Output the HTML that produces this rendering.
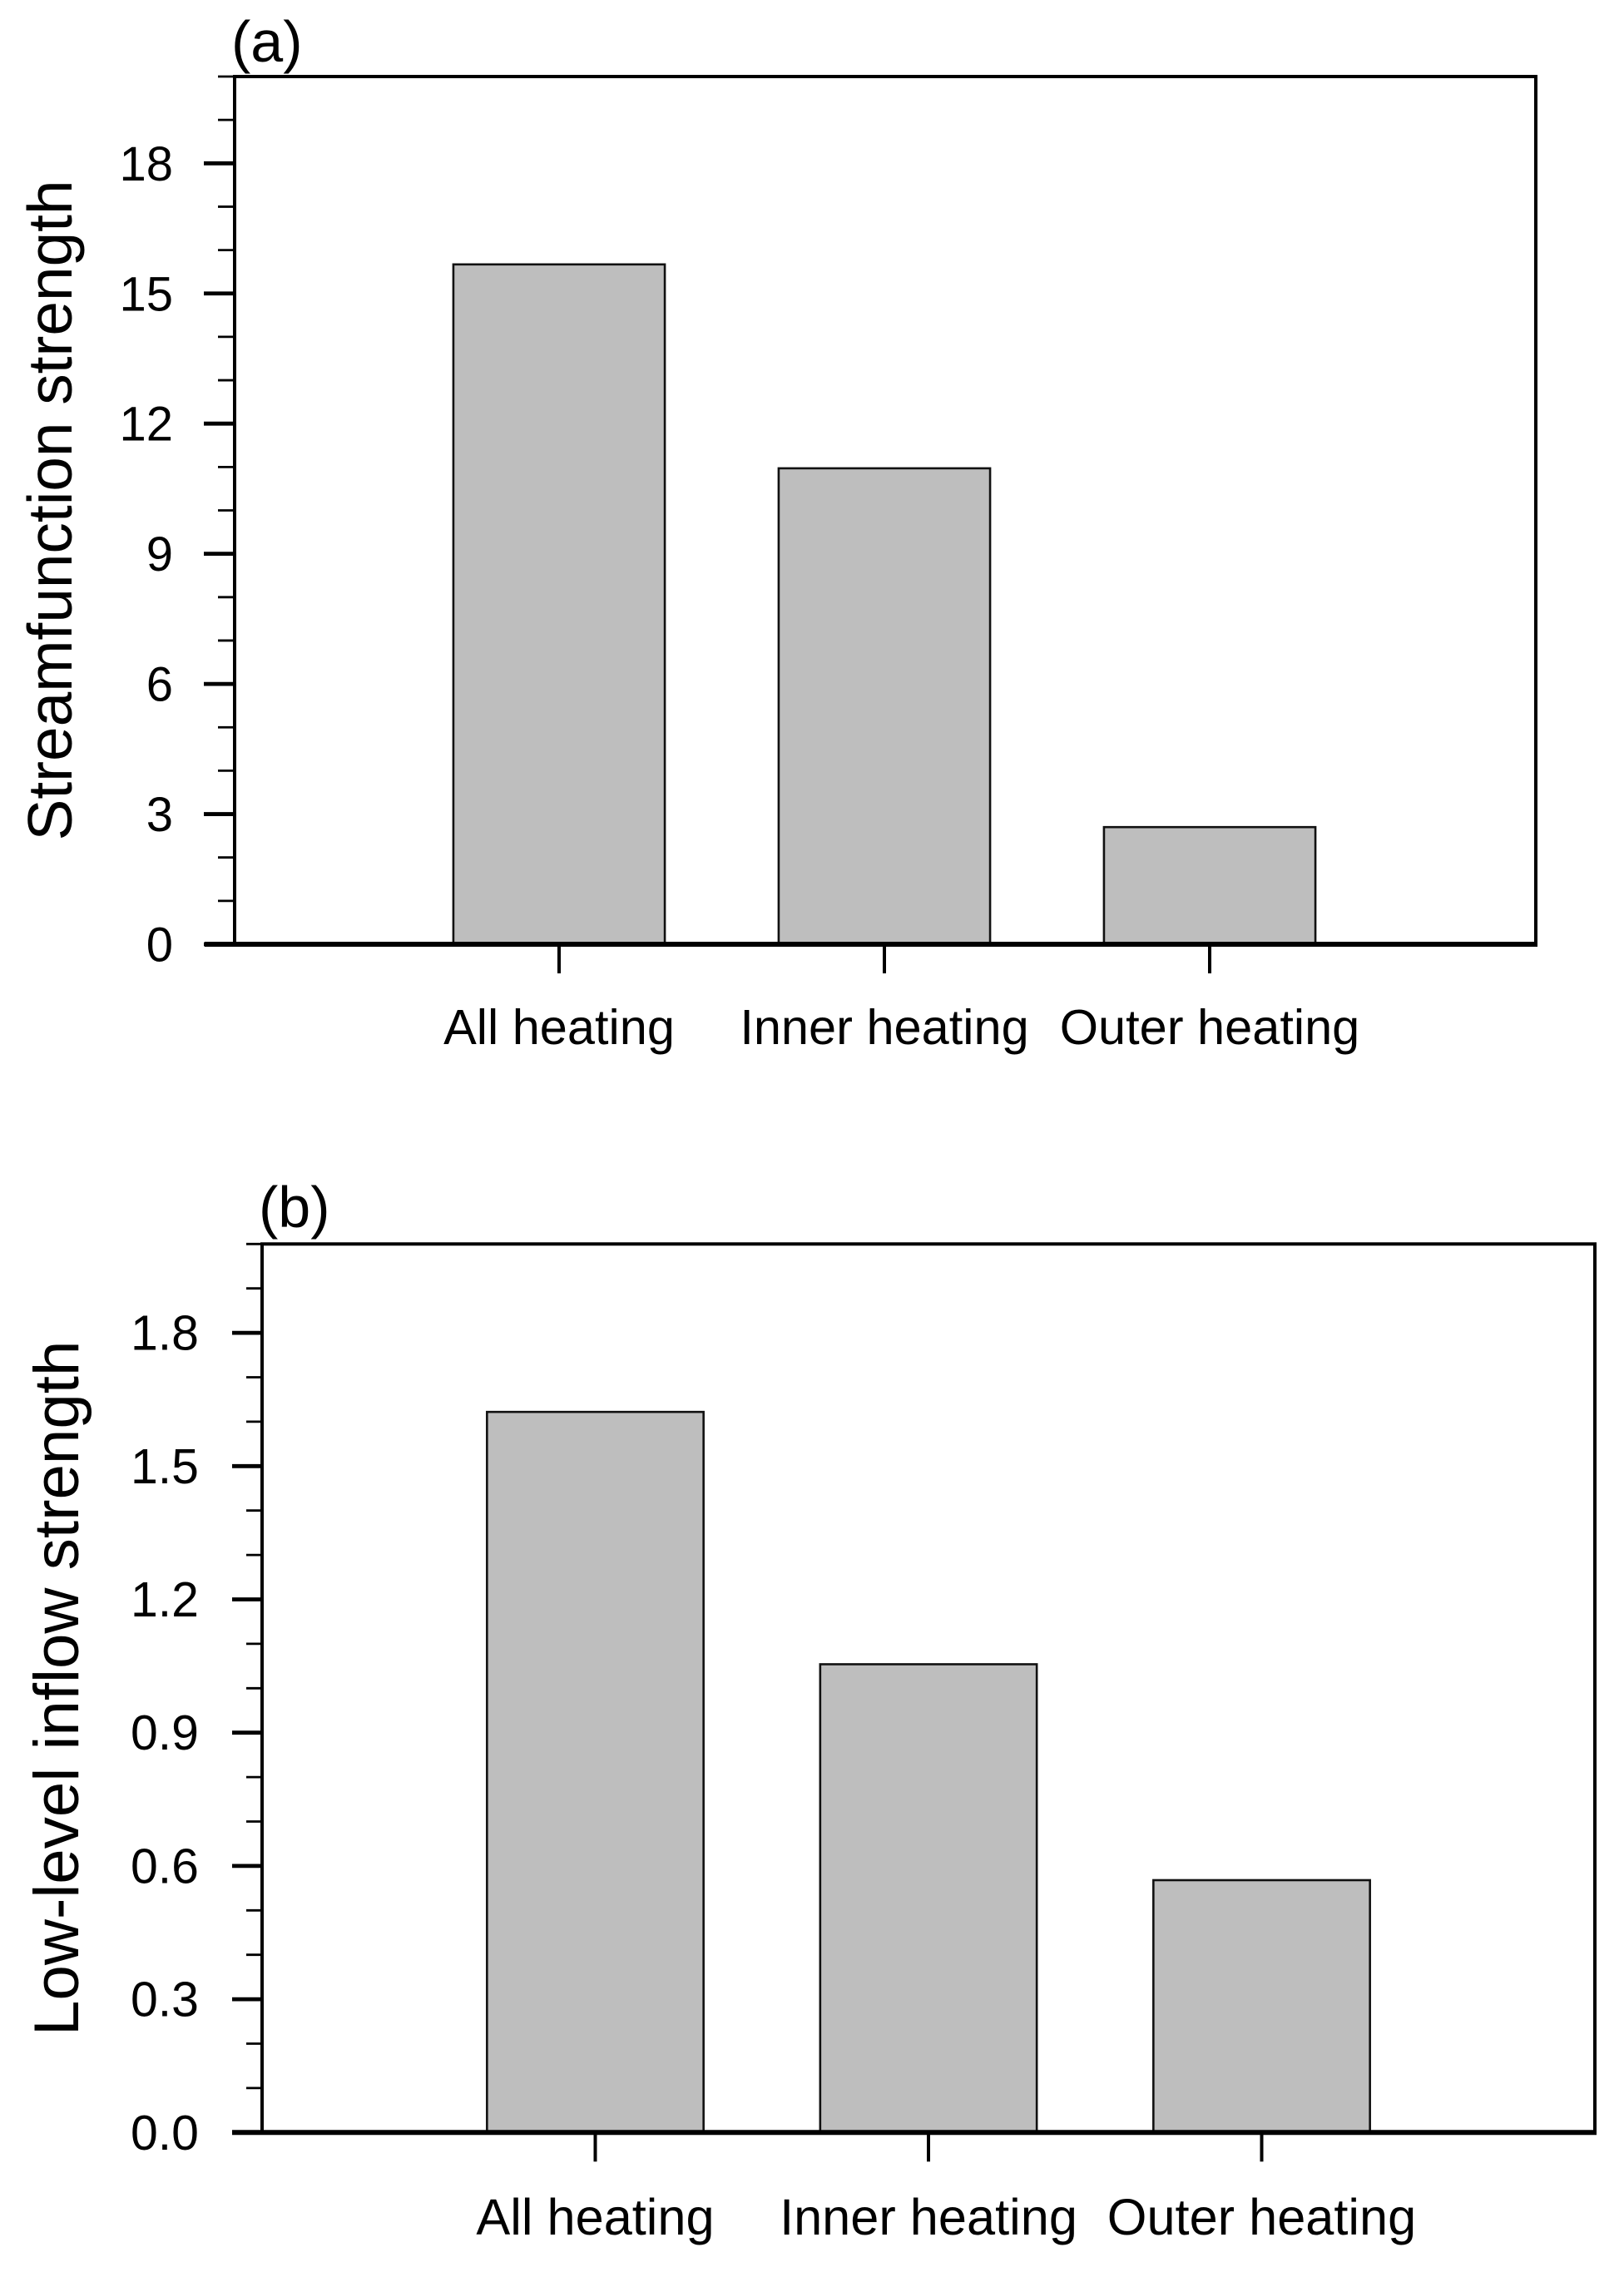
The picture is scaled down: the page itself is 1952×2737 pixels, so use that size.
<!DOCTYPE html>
<html lang="en">
<head>
<meta charset="utf-8">
<title>Streamfunction and low-level inflow strength by heating experiment</title>
<style>
html,body{margin:0;padding:0;background:#fff;}
svg{display:block;}
text{font-family:"Liberation Sans",sans-serif;fill:#000;}
</style>
</head>
<body>
<svg id="figure" xmlns="http://www.w3.org/2000/svg" width="1952" height="2737" viewBox="0 0 1952 2737">
<rect x="0" y="0" width="1952" height="2737" fill="#ffffff"/>
</svg>
<script>
var categories = ['All heating', 'Inner heating', 'Outer heating'];
var seriesA = [15.67, 10.97, 2.70];
var seriesB = [1.622, 1.054, 0.568];
var tickValuesA = [0, 3, 6, 9, 12, 15, 18];
var tickLabelsA = ['0', '3', '6', '9', '12', '15', '18'];
var tickValuesB = [0, 0.3, 0.6, 0.9, 1.2, 1.5, 1.8];
var tickLabelsB = ['0.0', '0.3', '0.6', '0.9', '1.2', '1.5', '1.8'];
var minorValuesA = [1, 2, 4, 5, 7, 8, 10, 11, 13, 14, 16, 17, 19, 20];
var minorValuesB = [0.1, 0.2, 0.4, 0.5, 0.7, 0.8, 1.0, 1.1, 1.3, 1.4, 1.6, 1.7, 1.9, 2.0];

var NS = 'http://www.w3.org/2000/svg';
var svg = document.getElementById('figure');

function make(parent, tag, attrs, text) {
  var el = document.createElementNS(NS, tag);
  for (var k in attrs) el.setAttribute(k, attrs[k]);
  if (text !== undefined) el.textContent = text;
  parent.appendChild(el);
  return el;
}

function drawPanel(cfg) {
  var g = make(svg, 'g', {});
  
  

  function xScale(v) { return cfg.left + (v - cfg.xMin) / (cfg.xMax - cfg.xMin) * (cfg.right - cfg.left); }
  function yScale(v) { return cfg.bottom - (v - cfg.yMin) / (cfg.yMax - cfg.yMin) * (cfg.bottom - cfg.top); }

  // bars
  cfg.values.forEach(function (v, i) {
    var cx = xScale(i + 1);
    var hw = (xScale(cfg.barWidth) - xScale(0)) / 2;
    var bar = make(g, 'rect', {
      x: cx - hw, y: yScale(v), width: hw * 2, height: yScale(0) - yScale(v),
      fill: '#bebebe', stroke: '#111111', 'stroke-width': 2.6
    });
    
    
  });

  // minor y ticks
  cfg.minor.forEach(function (v) {
    var t = make(g, 'line', { x1: cfg.left - 19, x2: cfg.left, y1: yScale(v), y2: yScale(v), stroke: '#000', 'stroke-width': 2.8 });
    
    
  });

  // major y ticks and labels
  cfg.ticks.forEach(function (v, i) {
    var t = make(g, 'line', { x1: cfg.left - 36, x2: cfg.left, y1: yScale(v), y2: yScale(v), stroke: '#000', 'stroke-width': 4.8 });
    
    
    var l = make(g, 'text', { x: cfg.tickLabelX, y: yScale(v) + 20.5, 'text-anchor': 'end', 'font-size': cfg.tickFont }, cfg.tickLabels[i]);
    
    
  });

  // x ticks and labels
  categories.forEach(function (c, i) {
    var x = xScale(i + 1);
    var t = make(g, 'line', { x1: x, x2: x, y1: yScale(0), y2: yScale(0) + 35, stroke: '#000', 'stroke-width': 4 });
    
    
    var l = make(g, 'text', { x: x, y: cfg.xLabelY, 'text-anchor': 'middle', 'font-size': cfg.xFont }, c);
    
    
  });

  // frame
  var f = make(g, 'rect', { x: cfg.frameLeft, y: cfg.top, width: cfg.frameRight - cfg.frameLeft, height: cfg.bottom - cfg.top, fill: 'none', stroke: '#000', 'stroke-width': 4 });
  
  
  var base = make(g, 'line', { x1: cfg.frameLeft - 36, x2: cfg.frameRight + 2, y1: yScale(0), y2: yScale(0), stroke: '#000', 'stroke-width': 6 });
  
  

  // y title
  var yt = make(g, 'text', {
    transform: 'translate(' + cfg.titleX + ',' + (cfg.top + cfg.bottom) / 2 + ') rotate(-90)',
    'text-anchor': 'middle', 'font-size': cfg.titleFont
  }, cfg.yTitle);
  
  

  // panel letter
  var p = make(g, 'text', { x: cfg.letterX, y: cfg.letterY, 'font-size': 70 }, cfg.letter);
  
  
}

drawPanel({
  id: 'a', letter: '(a)', letterX: 278, letterY: 74,
  left: 281, right: 1845, frameLeft: 282, frameRight: 1846, top: 92, bottom: 1135,
  xMin: 0, xMax: 4, yMin: 0, yMax: 20, barWidth: 0.65,
  values: seriesA, ticks: tickValuesA, tickLabels: tickLabelsA, minor: minorValuesA,
  tickLabelX: 208, tickFont: 58, xFont: 59.5, xLabelY: 1255,
  yTitle: 'Streamfunction strength', titleX: 86, titleFont: 74.8
});
drawPanel({
  id: 'b', letter: '(b)', letterX: 311, letterY: 1475,
  left: 315, right: 1917, frameLeft: 315, frameRight: 1917, top: 1495.3, bottom: 2563.3,
  xMin: 0, xMax: 4, yMin: 0, yMax: 2, barWidth: 0.65,
  values: seriesB, ticks: tickValuesB, tickLabels: tickLabelsB, minor: minorValuesB,
  tickLabelX: 239, tickFont: 59, xFont: 61.3, xLabelY: 2686,
  yTitle: 'Low-level inflow strength', titleX: 94, titleFont: 76.3
});
</script>
</body>
</html>
